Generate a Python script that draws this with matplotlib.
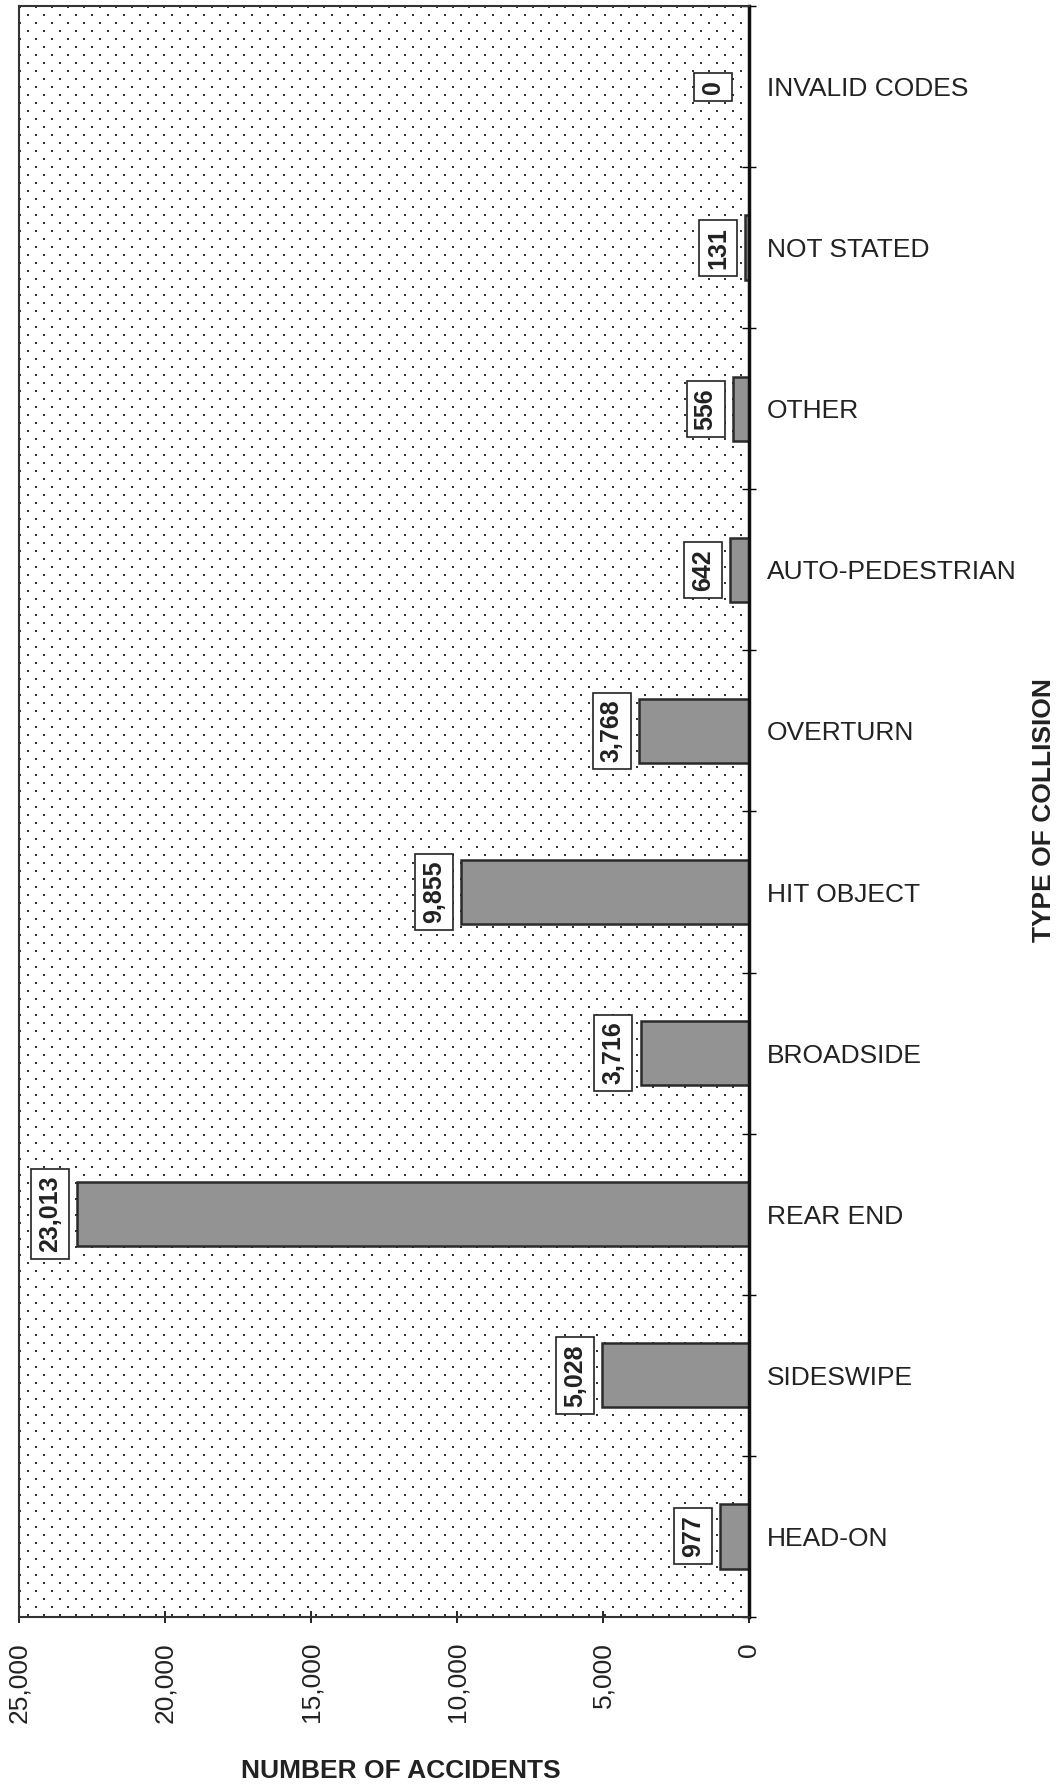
import numpy as np
import matplotlib.pyplot as plt
from matplotlib.ticker import FuncFormatter, MultipleLocator

plt.rcParams['font.family'] = ['Liberation Sans', 'DejaVu Sans']

categories = ['HEAD-ON', 'SIDESWIPE', 'REAR END', 'BROADSIDE', 'HIT OBJECT',
              'OVERTURN', 'AUTO-PEDESTRIAN', 'OTHER', 'NOT STATED', 'INVALID CODES']
accidents = [977, 5028, 23013, 3716, 9855, 3768, 642, 556, 131, 0]
xticks = [0, 5000, 10000, 15000, 20000, 25000]

fig = plt.figure(figsize=(10.62, 17.88), dpi=100)
ax = fig.add_axes([0.0179, 0.0957, 0.6874, 0.9009])

# dotted background texture (staggered dots, like the printed screen)
h, w = 1611, 730
tex = np.ones((h, w))
rr, cc = np.mgrid[0:h, 0:w]
dots = ((rr % 8) < 2) & (((cc + ((rr // 8) % 2) * 8) % 16) < 2)
tex[dots] = 0.2
ax.imshow(tex, cmap='gray', vmin=0, vmax=1, extent=(0, 1, 0, 1),
          transform=ax.transAxes, aspect='auto', interpolation='nearest', zorder=0)

ypos = list(range(len(categories)))
ax.barh(ypos, accidents, height=0.4, color='#939393', edgecolor='#2a2a2a',
        linewidth=1.8, zorder=2)

for y, v in zip(ypos, accidents):
    ax.annotate(f'{v:,}', xy=(v, y), xytext=(-11 if v > 0 else -17, 0),
                textcoords='offset points', rotation=90, ha='right', va='center',
                fontsize=18, fontweight='bold', color='#222222', zorder=3,
                bbox=dict(boxstyle='square,pad=0.28', facecolor='white',
                          edgecolor='#222222', linewidth=1.2))

ax.set_xlim(25000, 0)
ax.set_ylim(-0.5, 9.5)
ax.set_xticks(xticks)
ax.xaxis.set_major_formatter(FuncFormatter(lambda v, p: f'{int(v):,}'))
ax.tick_params(axis='x', direction='inout', length=8, width=1.2, pad=14,
               labelsize=19, labelrotation=90, labelcolor='#222222')

ax.yaxis.tick_right()
ax.set_yticks(ypos)
ax.set_yticklabels(categories)
ax.yaxis.set_minor_locator(MultipleLocator(1, offset=0.5))
ax.tick_params(axis='y', which='major', length=0, pad=13, labelsize=19,
               labelcolor='#222222')
ax.tick_params(axis='y', which='minor', direction='inout', length=10, width=1.0)

for side in ['left', 'top', 'bottom']:
    ax.spines[side].set_linewidth(1.5)
    ax.spines[side].set_color('#333333')
ax.spines['right'].set_linewidth(2.5)
ax.spines['right'].set_color('#111111')

fig.text(0.377, 0.0095, 'NUMBER OF ACCIDENTS', ha='center', va='center',
         fontsize=19, fontweight='bold', color='#222222')
fig.text(0.983, 0.547, 'TYPE OF COLLISION', ha='center', va='center',
         rotation=90, fontsize=19, fontweight='bold', color='#222222')

fig.savefig('out.png', dpi=100)
plt.close(fig)
